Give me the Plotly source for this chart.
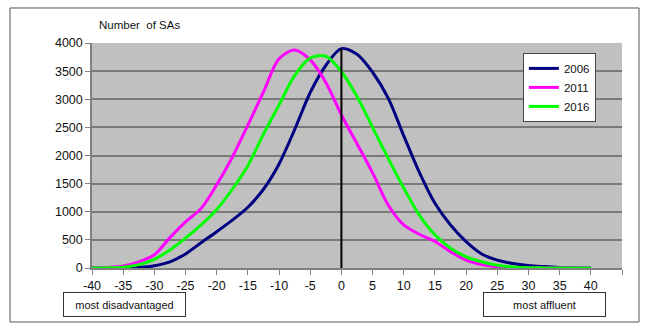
import plotly.graph_objects as go

# Index score bins (x) and number of SAs per bin for each census year
score = [-40, -37.5, -35, -32.5, -30, -27.5, -25, -22.5, -20, -17.5, -15, -12.5,
         -10, -7.5, -5, -2.5, 0, 2.5, 5, 7.5, 10, 12.5, 15, 17.5, 20, 22.5,
         25, 27.5, 30, 32.5, 35, 37.5, 40]

sas_2006 = [0, 0, 2, 10, 40, 110, 250, 450, 645, 850, 1080, 1400,
            1850, 2460, 3120, 3600, 3900, 3800, 3480, 3020, 2350, 1700, 1150, 765,
            470, 250, 140, 80, 45, 25, 10, 4, 0]

sas_2011 = [0, 8, 35, 110, 235, 540, 820, 1060, 1480, 1970, 2540, 3130,
            3720, 3875, 3700, 3300, 2720, 2210, 1690, 1120, 765, 600, 470, 290,
            140, 60, 20, 8, 3, 0, 0, 0, 0]

sas_2016 = [0, 4, 15, 60, 155, 320, 530, 765, 1040, 1400, 1820, 2380,
            2900, 3420, 3730, 3765, 3490, 3050, 2500, 1950, 1420, 940, 590, 350,
            200, 110, 50, 20, 6, 2, 0, 0, 0]

years = ["2006", "2011", "2016"]
colours = ["#000080", "#FF00FF", "#00FF00"]

# Zero reference line, running up to the 2006 value at score 0
zero_x = [0, 0]
zero_y = [0, sas_2006[score.index(0)]]

x_ticks = [-40, -35, -30, -25, -20, -15, -10, -5, 0, 5, 10, 15, 20, 25, 30, 35, 40, 45]
x_tick_labels = [str(v) for v in x_ticks[:-1]] + [""]
y_ticks = [0, 500, 1000, 1500, 2000, 2500, 3000, 3500, 4000]

font_family = "Liberation Sans, Arial, sans-serif"

fig = go.Figure()
for name, ys, col in zip(years, [sas_2006, sas_2011, sas_2016], colours):
    fig.add_trace(go.Scatter(
        x=score, y=ys, name=name, mode="lines",
        line=dict(color=col, width=3, shape="spline", smoothing=0.9),
    ))

fig.add_trace(go.Scatter(
    x=zero_x, y=zero_y, mode="lines", showlegend=False,
    line=dict(color="black", width=2), hoverinfo="skip",
))

fig.update_layout(
    width=650, height=331,
    margin=dict(l=92, r=28, t=43, b=63),
    paper_bgcolor="white",
    plot_bgcolor="#C0C0C0",
    font=dict(family=font_family, size=12, color="#111111"),
    showlegend=True,
    legend=dict(
        x=0.813, y=0.956, xanchor="left", yanchor="top",
        bgcolor="white", bordercolor="#444444", borderwidth=1,
        font=dict(size=11.5, color="#111111"),
        itemwidth=30, tracegroupgap=0,
    ),
    xaxis=dict(
        range=[-40, 45], tickvals=x_ticks, ticktext=x_tick_labels,
        showgrid=False, zeroline=False,
        showline=True, linecolor="#808080", linewidth=1.5,
        ticks="outside", ticklen=5, tickcolor="#808080", tickwidth=1,
        tickfont=dict(size=12.5),
    ),
    yaxis=dict(
        range=[0, 4000], tickvals=y_ticks,
        showgrid=True, gridcolor="#7a7a7a", gridwidth=1.5,
        zeroline=False,
        showline=True, linecolor="#808080", linewidth=1.5,
        ticks="outside", ticklen=5, tickcolor="#808080", tickwidth=1,
        tickfont=dict(size=12.5),
    ),
    shapes=[
        # chart frame
        dict(type="rect", xref="paper", yref="paper",
             x0=-0.1547, x1=1.0321, y0=-0.24, y1=1.1556,
             line=dict(color="#555555", width=1), layer="below"),
    ],
    annotations=[
        dict(text="Number  of SAs", xref="paper", yref="paper",
             x=0.0094, y=1.08, xanchor="left", yanchor="middle",
             showarrow=False, font=dict(size=11.5)),
        dict(text="most disadvantaged", xref="paper", yref="paper",
             x=0.0613, y=-0.16, xanchor="center", yanchor="middle",
             showarrow=False, font=dict(size=11),
             width=119, height=21, borderpad=1, borderwidth=1,
             bordercolor="#333333", bgcolor="white"),
        dict(text="most affluent", xref="paper", yref="paper",
             x=0.8538, y=-0.16, xanchor="center", yanchor="middle",
             showarrow=False, font=dict(size=11),
             width=119, height=21, borderpad=1, borderwidth=1,
             bordercolor="#333333", bgcolor="white"),
    ],
)

fig.write_html("out.html")
